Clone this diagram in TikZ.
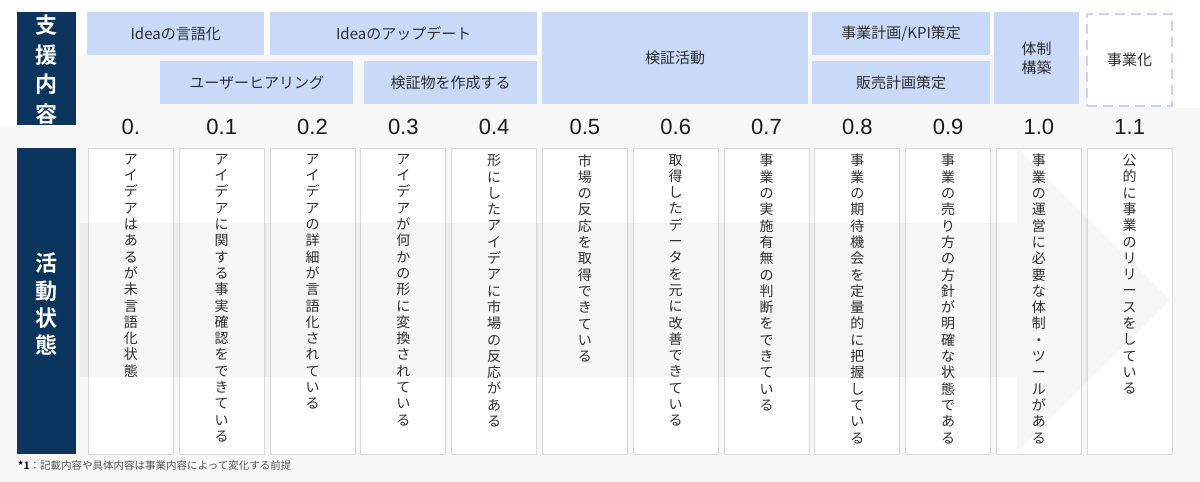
\documentclass[tikz,border=0pt]{standalone}
\usepackage{fontspec}
\setmainfont{Liberation Sans}
\newfontfamily\jp{Noto Sans CJK JP}
\newfontfamily\jpb{Noto Sans CJK JP Bold}
\definecolor{navy}{HTML}{0C355E}
\definecolor{boxblue}{HTML}{C9DAF8}
\definecolor{dashblue}{HTML}{C4D6F6}
\definecolor{bggray}{HTML}{F7F7F7}
\definecolor{cardline}{HTML}{DADADA}
\definecolor{txt}{HTML}{2E2E2E}
\definecolor{numcol}{HTML}{1A1A1A}
\definecolor{fncol}{HTML}{555555}
\makeatletter
\def\vt@end{\vt@end}
\def\vt@loop#1{\ifx\vt@end#1\else\hbox to 0pt{\hss#1\hss}\expandafter\vt@loop\fi}
\newcommand\vtxt[2]{\vbox{\baselineskip=#2\relax\lineskiplimit=-100pt\lineskip=0pt\expandafter\vt@loop#1\vt@end}}
\makeatother
\begin{document}
\begin{tikzpicture}[x=1bp,y=-1bp,
  bluebox/.style={fill=boxblue, draw=none, anchor=north west, inner sep=0pt, font=\jp\fontsize{15bp}{18.5bp}\selectfont, text=txt, align=center},
  dashbox/.style={fill=white, draw=dashblue, line width=2bp, dash pattern=on 10bp off 6bp, anchor=north west, inner sep=0pt, font=\jp\fontsize{15bp}{18.5bp}\selectfont, text=txt},
  navybox/.style={fill=navy, draw=none, anchor=north west, inner sep=0pt, minimum width=59bp},
  navytext/.style={text=white, inner sep=0pt, anchor=north, font=\jpb\fontsize{22bp}{28bp}\selectfont},
  card/.style={fill=white, draw=cardline, line width=0.8bp, anchor=north west, minimum width=85bp, minimum height=306bp, inner sep=0pt},
  cardtext/.style={anchor=north, inner sep=0pt, text=txt, font=\jp\fontsize{14bp}{16.3bp}\selectfont},
  num/.style={font=\fontsize{22bp}{24bp}\selectfont, text=numcol, inner sep=0pt},
  arrowshade/.style={fill=black, opacity=0.035},
]
\useasboundingbox (0,0) rectangle (1200,482);
% background
\fill[white] (0,0) rectangle (1200,482);
\fill[bggray] (77,55) rectangle (1175,482);
\fill[bggray] (0,127) rectangle (1200,482);
\fill[bggray] (1175,108) rectangle (1200,482);

% navy headers
\node[navybox, minimum height=113bp] (hsup) at (17,12) {};
\node[navytext] (hsupt) at ([yshift=-3bp]hsup.north) {\vtxt{支援内容}{29.5bp}};
\node[navybox, minimum height=306bp] (hact) at (17,148) {};
\node[navytext] (hactt) at ([yshift=-105bp]hact.north) {\vtxt{活動状態}{27.2bp}};

% support boxes
\node[bluebox, minimum width=177bp, minimum height=43bp] (s1) at (87,12) {Ideaの言語化};
\node[bluebox, minimum width=267bp, minimum height=43bp] (s2) at (270,12) {Ideaのアップデート};
\node[bluebox, minimum width=193bp, minimum height=43bp] (s3) at (160,61) {ユーザーヒアリング};
\node[bluebox, minimum width=173bp, minimum height=43bp] (s4) at (364,61) {検証物を作成する};
\node[bluebox, minimum width=266bp, minimum height=92bp] (s5) at (542,12) {検証活動};
\node[bluebox, minimum width=178bp, minimum height=43bp] (s6) at (812,12) {事業計画/KPI策定};
\node[bluebox, minimum width=178bp, minimum height=43bp] (s7) at (812,61) {販売計画策定};
\node[bluebox, minimum width=85bp, minimum height=92bp] (s8) at (994,12) {体制\\構築};
\node[dashbox, minimum width=85bp, minimum height=92bp] (s9) at (1086,13) {事業化};

% cards
\foreach \i in {0,...,11} {
  \pgfmathsetmacro\cx{88+90.8*\i}
  \node[card] (c\i) at (\cx,148) {};
}
% progress arrow
\fill[arrowshade] (80,223) -- (1017,223) -- (1017,148) -- (1170,300) -- (1017,452) -- (1017,377) -- (80,377) -- cycle;

% numbers and texts
\foreach \i/\lab/\ct in {
  0/{0.}/{アイデアはあるが未言語化状態},
  1/{0.1}/{アイデアに関する事実確認をできている},
  2/{0.2}/{アイデアの詳細が言語化されている},
  3/{0.3}/{アイデアが何かの形に変換されている},
  4/{0.4}/{形にしたアイデアに市場の反応がある},
  5/{0.5}/{市場の反応を取得できている},
  6/{0.6}/{取得したデータを元に改善できている},
  7/{0.7}/{事業の実施有無の判断をできている},
  8/{0.8}/{事業の期待機会を定量的に把握している},
  9/{0.9}/{事業の売り方の方針が明確な状態である},
  10/{1.0}/{事業の運営に必要な体制・ツールがある},
  11/{1.1}/{公的に事業のリリースをしている}} {
  \node[num] (n\i) at ([yshift=21bp]c\i.north) {\lab};
  \node[cardtext] (t\i) at ([yshift=-6bp]c\i.north) {\vtxt{\ct}{16.3bp}};
}

% footnote
\node[anchor=west, inner sep=0pt, font=\jp\fontsize{10.5bp}{12bp}\selectfont] (fn) at (18,465) {{\jpb *1}\textcolor{fncol}{：記載内容や具体内容は事業内容によって変化する前提}};
\end{tikzpicture}
\end{document}
